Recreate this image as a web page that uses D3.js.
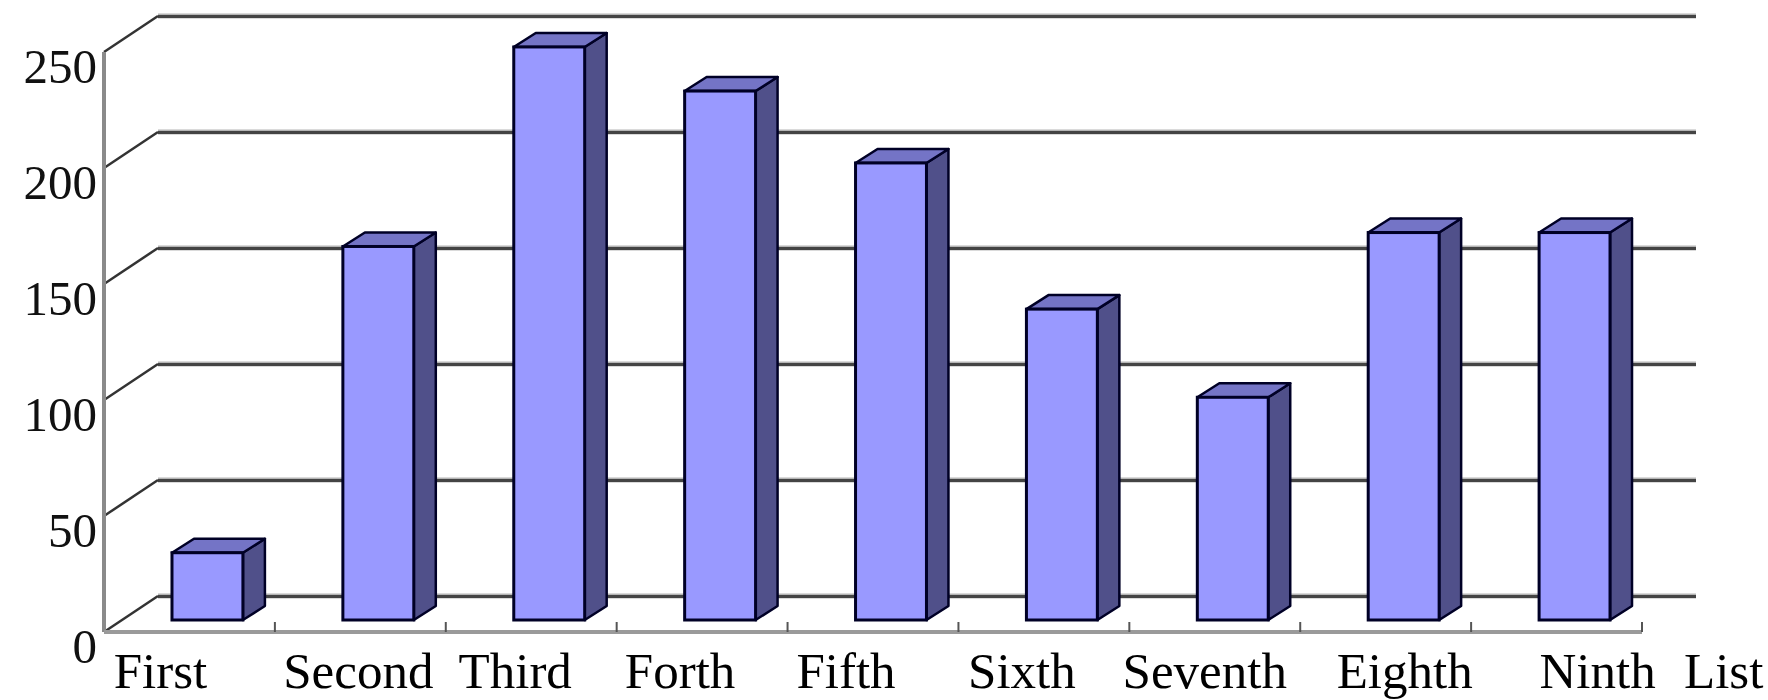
<!DOCTYPE html>
<html>
<head>
<meta charset="utf-8">
<script src="https://cdn.jsdelivr.net/npm/d3@7"></script>
<style>
	body { margin: 0; background: #fff; }
	svg { display: block; }
	.tick-label { font-family: "Liberation Serif", "Times New Roman", serif; font-size: 49px; fill: #111; }
	.cat-label { font-family: "Liberation Serif", "Times New Roman", serif; font-size: 51px; fill: #000; }
</style>
</head>
<body>
<svg id="chart" width="1768" height="700"></svg>
<script>
// values
const categories = ["First", "Second", "Third", "Forth", "Fifth", "Sixth", "Seventh", "Eighth", "Ninth"];
const values = [29, 161, 247, 228, 197, 134, 96, 167, 167];
const yTicks = [0, 50, 100, 150, 200, 250];
const axisTitle = "List";

// layout
const plotLeft = 104, plotRight = 1642, plotBottom = 632, plotTop = 52;
const wall = { dx: 54, dy: -36 };      // depth of the floor / side wall
const barOff = { dx: 18, dy: -12 };    // bars sit a third of the way back
const barDepth = { dx: 22, dy: -14 };
const barRatio = 0.415;
// labels were typed in by hand under the axis, so they don't sit on the band centres
const labelShift = [-29, -2, -16, -22, -27, -22, -10, 19, 41];

const svg = d3.select("#chart");

const x = d3.scaleBand()
	.domain(categories)
	.range([plotLeft, plotRight])
	.padding(0);

const y = d3.scaleLinear()
	.domain([0, 250])
	.range([plotBottom, plotTop]);

const grid = svg.append("g");
const bars = svg.append("g");
const labels = svg.append("g");

// back wall lines (light band with a dark core)
grid.selectAll(".back-light")
	.data(yTicks)
	.enter()
	.append("line")
	.attr("x1", plotLeft + wall.dx)
	.attr("x2", plotRight + wall.dx)
	.attr("y1", (d) => y(d) + wall.dy)
	.attr("y2", (d) => y(d) + wall.dy)
	.attr("stroke", "#b5b5b5")
	.attr("stroke-width", 5);

grid.selectAll(".back-dark")
	.data(yTicks)
	.enter()
	.append("line")
	.attr("x1", plotLeft + wall.dx)
	.attr("x2", plotRight + wall.dx)
	.attr("y1", (d) => y(d) + wall.dy + 0.5)
	.attr("y2", (d) => y(d) + wall.dy + 0.5)
	.attr("stroke", "#444")
	.attr("stroke-width", 3);

// diagonals on the side wall
grid.selectAll(".diag")
	.data(yTicks)
	.enter()
	.append("line")
	.attr("x1", plotLeft)
	.attr("y1", (d) => y(d))
	.attr("x2", plotLeft + wall.dx)
	.attr("y2", (d) => y(d) + wall.dy)
	.attr("stroke", "#333")
	.attr("stroke-width", 2.5);

// value axis
grid.append("line")
	.attr("x1", plotLeft).attr("x2", plotLeft)
	.attr("y1", y(250)).attr("y2", y(0))
	.attr("stroke", "#8a8a8a")
	.attr("stroke-width", 4);

// category axis along the front of the floor
grid.append("line")
	.attr("x1", plotLeft).attr("x2", plotRight)
	.attr("y1", y(0)).attr("y2", y(0))
	.attr("stroke", "#9a9a9a")
	.attr("stroke-width", 4);

const edges = categories.slice(1).map((c) => x(c)).concat([plotRight]);
grid.selectAll(".xtick")
	.data(edges)
	.enter()
	.append("line")
	.attr("x1", (d) => d).attr("x2", (d) => d)
	.attr("y1", y(0)).attr("y2", y(0) - 10)
	.attr("stroke", "#555")
	.attr("stroke-width", 2);

// 3d bars
const bw = x.bandwidth() * barRatio;
const bx = (c) => x(c) + (x.bandwidth() - bw) / 2 + barOff.dx;
const by0 = y(0) + barOff.dy;

const bar = bars.selectAll(".bar")
	.data(categories.map((c, i) => ({ cat: c, value: values[i] })))
	.enter()
	.append("g")
	.classed("bar", true);

bar.append("path")
	.attr("d", (d) => {
		const x0 = bx(d.cat), x1 = x0 + bw, yt = y(d.value) + barOff.dy;
		return "M" + x1 + "," + yt +
			"L" + (x1 + barDepth.dx) + "," + (yt + barDepth.dy) +
			"L" + (x1 + barDepth.dx) + "," + (by0 + barDepth.dy) +
			"L" + x1 + "," + by0 + "Z";
	})
	.attr("fill", "#50508a")
	.attr("stroke", "#000026")
	.attr("stroke-width", 2.5)
	.attr("stroke-linejoin", "round");

bar.append("path")
	.attr("d", (d) => {
		const x0 = bx(d.cat), x1 = x0 + bw, yt = y(d.value) + barOff.dy;
		return "M" + x0 + "," + yt +
			"L" + x1 + "," + yt +
			"L" + (x1 + barDepth.dx) + "," + (yt + barDepth.dy) +
			"L" + (x0 + barDepth.dx) + "," + (yt + barDepth.dy) + "Z";
	})
	.attr("fill", "#7474c6")
	.attr("stroke", "#000026")
	.attr("stroke-width", 2.5)
	.attr("stroke-linejoin", "round");

bar.append("rect")
	.attr("x", (d) => bx(d.cat))
	.attr("y", (d) => y(d.value) + barOff.dy)
	.attr("width", bw)
	.attr("height", (d) => y(0) - y(d.value))
	.attr("fill", "#9999ff")
	.attr("stroke", "#000026")
	.attr("stroke-width", 3);

// tick labels
labels.selectAll(".tick-label")
	.data(yTicks)
	.enter()
	.append("text")
	.classed("tick-label", true)
	.attr("x", plotLeft - 7)
	.attr("y", (d) => y(d) + 31)
	.attr("text-anchor", "end")
	.text((d) => d);

labels.selectAll(".cat-label")
	.data(categories)
	.enter()
	.append("text")
	.classed("cat-label", true)
	.attr("x", (d, i) => x(d) + x.bandwidth() / 2 + labelShift[i])
	.attr("y", 688)
	.attr("text-anchor", "middle")
	.text((d) => d);

labels.append("text")
	.classed("cat-label", true)
	.attr("x", plotRight + 42)
	.attr("y", 688)
	.text(axisTitle);
</script>
</body>
</html>
